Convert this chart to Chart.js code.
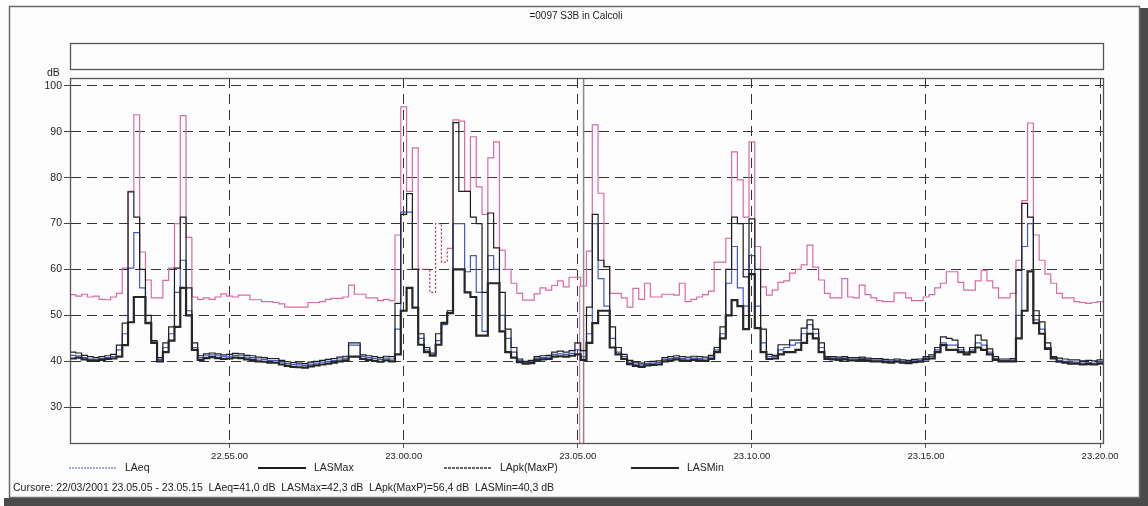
<!DOCTYPE html>
<html>
<head>
<meta charset="utf-8">
<title>=0097 S3B in Calcoli</title>
<script src="https://cdn.jsdelivr.net/npm/chart.js@4.4.1/dist/chart.umd.min.js"></script>
<style>
  html, body { margin: 0; padding: 0; background: #fff; }
  #wrap { width: 1148px; height: 506px; }
</style>
</head>
<body>
<div id="wrap"><canvas id="myChart" width="1148" height="506"></canvas></div>
<script>
const chartTitle = "=0097 S3B in Calcoli";
const cursorText = "Cursore: 22/03/2001 23.05.05 - 23.05.15  LAeq=41,0 dB  LASMax=42,3 dB  LApk(MaxP)=56,4 dB  LASMin=40,3 dB";
const startTime = "22.50.25";   // start of the first 10 s interval
const endTime = "23.20.05";
const stepSeconds = 10;
const cursorFrom = "23.05.05";
const cursorTo = "23.05.15";
const xTickLabels = ["22.55.00", "23.00.00", "23.05.00", "23.10.00", "23.15.00", "23.20.00"];
const yTicks = [30, 40, 50, 60, 70, 80, 90, 100];
const seriesNames = ["LAeq", "LASMax", "LApk(MaxP)", "LASMin"];

// LApk(MaxP), one value per 10 s interval
const lapk = [
  54.5, 54.2, 54.6, 54.0, 54.2, 53.5, 53.4, 54.0, 54.8, 60.3,
  77.0, 93.7, 63.8, 57.7, 53.8, 53.8, 57.6, 60.3, 70.0, 93.5,
  67.0, 54.0, 53.5, 53.8, 53.5, 54.0, 54.7, 54.2, 54.0, 54.4,
  54.4, 53.4, 53.4, 53.0, 53.0, 52.8, 52.5, 51.8, 51.8, 51.8,
  51.8, 52.8, 52.8, 53.0, 53.5, 53.7, 53.7, 54.0, 56.6, 54.6,
  54.6, 53.8, 53.8, 53.2, 53.5, 53.2, 67.5, 95.4, 77.0, 86.5,
  60.0, 60.0, 55.0, 70.0, 61.6, 64.6, 92.6, 92.3, 77.0, 88.9,
  78.0, 72.0, 84.3, 87.8, 64.2, 60.0, 57.0, 54.8, 53.3, 53.3,
  54.7, 56.0, 55.5, 56.5, 57.5, 56.2, 58.3, 58.3, 56.4, 64.0,
  91.5, 76.6, 60.6, 54.8, 54.8, 53.8, 51.8, 55.9, 53.5, 57.0,
  54.0, 54.0, 54.6, 54.6, 54.4, 57.0, 53.0, 53.5, 54.0, 54.5,
  55.3, 61.6, 61.6, 66.8, 85.6, 79.5, 71.4, 87.8, 65.0, 56.2,
  54.4, 55.5, 57.2, 57.5, 59.2, 60.0, 61.0, 65.3, 60.5, 57.7,
  54.8, 53.8, 53.8, 58.0, 54.0, 53.8, 56.6, 54.5, 53.8, 53.2,
  53.0, 53.0, 54.9, 54.9, 53.8, 53.2, 53.2, 54.0, 54.5, 56.0,
  57.0, 59.5, 59.5, 57.2, 55.5, 55.5, 57.5, 59.8, 57.5, 56.0,
  53.8, 53.8, 54.8, 62.0, 75.0, 91.9, 67.5, 62.0, 59.0, 57.0,
  54.8, 53.8, 53.8, 53.0, 52.8, 52.6, 52.8, 53.0
];

const lasmax = [
  42.0, 41.8, 41.3, 41.0, 40.8, 41.0, 41.2, 41.5, 43.5, 48.3,
  76.9, 71.4, 60.0, 50.0, 44.5, 40.8, 44.0, 47.5, 60.3, 71.4,
  56.0, 44.0, 41.2, 41.6, 41.8, 41.6, 41.4, 41.5, 41.7, 41.6,
  41.3, 41.2, 40.9, 40.8, 40.6, 40.6, 40.2, 39.9, 39.7, 39.6,
  39.5, 39.8, 40.0, 40.2, 40.4, 40.6, 40.9, 41.1, 44.0, 44.0,
  41.4, 41.2, 41.0, 40.8, 41.1, 41.0, 52.6, 72.0, 76.5, 60.0,
  46.0, 43.0, 41.8, 46.0, 48.5, 51.0, 92.0, 77.0, 77.0, 71.4,
  70.0, 55.0, 72.3, 64.7, 55.0, 47.0, 43.0, 40.5, 40.0, 40.2,
  41.0, 41.2, 41.3, 42.0, 42.2, 42.0, 42.3, 44.0, 42.3, 51.8,
  72.0, 62.0, 60.6, 47.5, 43.0, 41.5, 40.2, 39.8, 39.6, 39.9,
  40.0, 40.1, 40.8, 41.0, 41.2, 41.0, 40.9, 41.1, 41.0, 40.9,
  41.3, 43.0, 47.5, 60.0, 71.4, 70.0, 58.4, 71.0, 60.0, 47.0,
  41.5, 41.3, 43.6, 43.6, 44.6, 44.6, 47.2, 49.0, 47.0, 44.0,
  41.0, 41.0, 40.9, 41.0, 40.8, 40.8, 40.9, 40.7, 40.6, 40.6,
  40.4, 40.3, 40.5, 40.3, 40.2, 40.4, 40.5, 41.0, 41.4, 43.0,
  45.3, 45.0, 44.6, 43.0, 42.0, 43.0, 45.7, 44.6, 42.7, 41.0,
  40.5, 40.5, 40.6, 59.8, 74.4, 71.4, 51.0, 48.6, 44.0, 41.0,
  40.7, 40.5, 40.3, 40.3, 40.1, 40.2, 40.1, 40.3
];

const laeq = [
  41.3, 41.2, 40.8, 40.5, 40.4, 40.6, 40.8, 41.0, 42.5, 46.0,
  60.3, 68.0, 56.0, 48.5, 44.2, 40.4, 43.0, 46.0, 55.0, 62.0,
  51.0, 43.0, 40.8, 41.2, 41.4, 41.2, 41.0, 41.1, 41.3, 41.2,
  40.9, 40.8, 40.5, 40.4, 40.2, 40.2, 39.8, 39.5, 39.3, 39.2,
  39.1, 39.4, 39.6, 39.8, 40.0, 40.2, 40.5, 40.7, 43.5, 43.5,
  41.0, 40.8, 40.6, 40.4, 40.7, 40.5, 47.0, 72.5, 72.5, 60.0,
  45.0, 42.5, 41.5, 44.5, 48.0, 50.5, 70.0, 70.0, 59.5, 63.0,
  55.0, 46.5, 63.0, 60.0, 50.0, 45.0, 42.0, 40.2, 39.8, 40.0,
  40.7, 40.8, 40.9, 41.5, 41.6, 41.5, 41.7, 42.5, 41.0, 46.0,
  70.0, 58.0, 52.0, 45.0, 42.0, 41.0, 39.8, 39.4, 39.2, 39.5,
  39.6, 39.7, 40.4, 40.6, 40.8, 40.6, 40.5, 40.7, 40.6, 40.5,
  40.9, 42.5, 46.0, 57.0, 65.0, 56.0, 52.0, 63.0, 52.0, 44.0,
  41.0, 41.0, 42.5, 43.0, 43.5, 44.0, 46.0, 48.0, 46.0, 43.0,
  40.8, 40.7, 40.6, 40.7, 40.5, 40.5, 40.6, 40.4, 40.3, 40.3,
  40.1, 40.0, 40.2, 40.0, 39.9, 40.1, 40.2, 40.7, 41.0, 42.5,
  44.0, 43.5, 43.5, 42.5, 41.8, 42.5, 44.0, 43.5, 42.0, 40.6,
  40.2, 40.2, 40.3, 50.0, 65.0, 70.0, 49.0, 47.0, 43.0, 40.8,
  40.2, 40.0, 39.8, 39.8, 39.6, 39.7, 39.6, 39.8
];

const lasmin = [
  40.6, 40.8, 40.4, 40.2, 40.1, 40.3, 40.5, 40.6, 41.0, 43.5,
  48.5, 54.0, 54.0, 48.3, 44.0, 40.0, 42.0, 44.5, 47.5, 56.0,
  50.0, 42.5, 40.3, 40.7, 40.9, 40.7, 40.5, 40.6, 40.8, 40.7,
  40.4, 40.3, 40.0, 39.9, 39.7, 39.7, 39.3, 39.0, 38.8, 38.7,
  38.6, 38.9, 39.1, 39.3, 39.5, 39.7, 40.0, 40.2, 41.0, 41.0,
  40.5, 40.3, 40.1, 39.9, 40.2, 40.0, 41.5, 51.0, 56.0, 51.7,
  43.6, 42.0, 41.2, 43.6, 48.3, 50.5, 60.0, 60.0, 55.0, 54.0,
  45.6, 45.6, 57.0, 57.0, 46.5, 42.0, 40.8, 39.8, 39.5, 39.6,
  40.3, 40.4, 40.5, 41.0, 41.1, 41.0, 41.2, 41.5, 40.3, 44.0,
  48.3, 51.0, 51.0, 43.0, 41.5, 40.5, 39.4, 39.0, 38.8, 39.1,
  39.2, 39.3, 40.0, 40.2, 40.4, 40.2, 40.1, 40.3, 40.2, 40.1,
  40.5, 42.0, 45.0, 50.0, 53.3, 52.0, 47.0, 59.0, 47.2, 42.0,
  40.5, 40.6, 41.5, 42.0, 42.0, 42.5, 44.0, 46.0, 45.0, 42.0,
  40.5, 40.4, 40.3, 40.4, 40.2, 40.2, 40.3, 40.1, 40.0, 40.0,
  39.8, 39.7, 39.9, 39.7, 39.6, 39.8, 39.9, 40.4, 40.6, 42.0,
  43.5, 42.5, 42.5, 42.0, 41.5, 42.0, 43.0, 42.5, 41.5, 40.3,
  40.0, 40.0, 40.0, 45.0, 51.0, 59.6, 48.3, 46.0, 42.7, 40.6,
  39.9, 39.7, 39.5, 39.5, 39.3, 39.4, 39.3, 39.5
];

// the stretch where the LApk trace is drawn dotted in the print
const dottedFrom = 60, dottedTo = 65;

function toSec(s) {
  const p = s.split(".").map(Number);
  return p[0] * 3600 + p[1] * 60 + p[2];
}
function fmt(sec) {
  const h = Math.floor(sec / 3600), m = Math.floor(sec % 3600 / 60), s = sec % 60;
  return [h, m, s].map(v => String(v).padStart(2, "0")).join(".");
}

const t0 = toSec(startTime);
function toPoints(values) {
  const pts = values.map((v, i) => ({ x: t0 + i * stepSeconds, y: v }));
  // close the last step
  pts.push({ x: t0 + values.length * stepSeconds, y: values[values.length - 1] });
  return pts;
}

const FONT = "'Liberation Sans', Arial, sans-serif";
const colors = { laeq: "#4058c8", lasmax: "#1e1e1e", lapk: "#d86aa8", lasmin: "#262626" };

const framePlugin = {
  id: "frame",
  beforeDraw(chart) {
    const ctx = chart.ctx;
    ctx.save();
    ctx.fillStyle = "#fdfdfd";
    ctx.fillRect(0, 0, chart.width, chart.height);
    // scanner shadow at bottom and right
    ctx.fillStyle = "#4a4a4a";
    ctx.fillRect(4, 498, chart.width, 8);
    ctx.fillRect(1140, 8, 8, chart.height);
    ctx.strokeStyle = "#6a6a6a";
    ctx.lineWidth = 1.5;
    ctx.strokeRect(9.5, 6.5, 1130, 491);
    ctx.restore();
  },
  beforeDatasetsDraw(chart) {
    const { ctx, chartArea: a, scales: { x, y } } = chart;
    ctx.save();
    const xc = x.getPixelForValue((toSec(cursorFrom) + toSec(cursorTo)) / 2);
    ctx.strokeStyle = "#8a8a8a";
    ctx.lineWidth = 1.5;
    ctx.beginPath(); ctx.moveTo(xc, a.top); ctx.lineTo(xc, a.bottom); ctx.stroke();
    const xs = x.getPixelForValue(toSec(cursorFrom)) - 1;
    const idx = (toSec(cursorFrom) - t0) / stepSeconds;
    ctx.strokeStyle = colors.lapk;
    ctx.lineWidth = 1;
    ctx.beginPath(); ctx.moveTo(xs, a.bottom); ctx.lineTo(xs, y.getPixelForValue(lapk[idx])); ctx.stroke();
    ctx.restore();
  },
  afterDraw(chart) {
    const { ctx, chartArea: a } = chart;
    ctx.save();
    ctx.strokeStyle = "#555";
    ctx.lineWidth = 1.3;
    ctx.strokeRect(a.left + 0.5, a.top + 0.5, a.right - a.left, a.bottom - a.top);
    ctx.strokeRect(a.left + 0.5, 43.5, a.right - a.left, 26);

    ctx.fillStyle = "#222";
    ctx.font = "10px " + FONT;
    ctx.textBaseline = "middle";
    ctx.textAlign = "center";
    ctx.fillText(chartTitle, 576, 16);
    ctx.textAlign = "left";
    ctx.font = "10.5px " + FONT;
    ctx.fillText("dB", 47, 73);

    // legend
    const items = [
      { name: seriesNames[0], x: 69, color: colors.laeq, w: 1.2, dash: [2, 1] },
      { name: seriesNames[1], x: 258, color: colors.lasmax, w: 2, dash: [] },
      { name: seriesNames[2], x: 444, color: "#333", w: 1.3, dash: [3, 1] },
      { name: seriesNames[3], x: 631, color: colors.lasmin, w: 2, dash: [] }
    ];
    const ly = 468;
    items.forEach(it => {
      ctx.strokeStyle = it.color;
      ctx.lineWidth = it.w;
      ctx.setLineDash(it.dash);
      ctx.beginPath(); ctx.moveTo(it.x, ly); ctx.lineTo(it.x + 48, ly); ctx.stroke();
      ctx.setLineDash([]);
      ctx.fillStyle = "#222";
      ctx.font = "10.5px " + FONT;
      ctx.fillText(it.name, it.x + 56, ly);
    });
    ctx.font = "10.5px " + FONT;
    ctx.fillText(cursorText, 13, 488);
    ctx.restore();
  }
};

const ctx = document.getElementById("myChart").getContext("2d");
const myChart = new Chart(ctx, {
  type: "line",
  data: {
    datasets: [
      { label: seriesNames[3], data: toPoints(lasmin), borderColor: colors.lasmin, borderWidth: 2.2 },
      { label: seriesNames[1], data: toPoints(lasmax), borderColor: colors.lasmax, borderWidth: 1.2 },
      { label: seriesNames[0], data: toPoints(laeq), borderColor: colors.laeq, borderWidth: 1.2 },
      {
        label: seriesNames[2], data: toPoints(lapk), borderColor: colors.lapk, borderWidth: 1.2,
        segment: {
          borderDash: c => (c.p0DataIndex >= dottedFrom && c.p0DataIndex < dottedTo) ? [2, 2] : undefined,
          borderColor: c => (c.p0DataIndex >= dottedFrom && c.p0DataIndex < dottedTo) ? "#b8304e" : undefined
        }
      }
    ]
  },
  options: {
    responsive: false,
    animation: false,
    devicePixelRatio: 1,
    layout: { padding: { top: 78, right: 45, left: 0, bottom: 0 } },
    elements: {
      line: { stepped: "before", tension: 0, fill: false },
      point: { radius: 0, hoverRadius: 0 }
    },
    plugins: { legend: { display: false }, title: { display: false }, tooltip: { enabled: false } },
    scales: {
      x: {
        type: "linear",
        min: toSec(startTime),
        max: toSec(endTime),
        afterBuildTicks: s => { s.ticks = xTickLabels.map(l => ({ value: toSec(l) })); },
        afterFit: s => { s.height = 63; },
        ticks: {
          autoSkip: false, maxRotation: 0, padding: 3,
          color: "#222", font: { family: FONT, size: 9.5 },
          callback: v => fmt(v)
        },
        grid: { color: "#333", lineWidth: 1, tickLength: 5, tickColor: "#555" },
        border: { display: true, color: "#555", width: 1, dash: [10, 6] }
      },
      y: {
        min: 22.2,
        max: 101.7,
        afterBuildTicks: s => { s.ticks = yTicks.map(v => ({ value: v })); },
        afterFit: s => { s.width = 70; },
        ticks: { padding: 2, color: "#222", font: { family: FONT, size: 10.5 } },
        grid: { color: "#333", lineWidth: 1, tickLength: 6, tickColor: "#444" },
        border: { display: true, color: "#555", width: 1, dash: [10, 6] }
      }
    }
  },
  plugins: [framePlugin]
});
</script>
</body>
</html>
